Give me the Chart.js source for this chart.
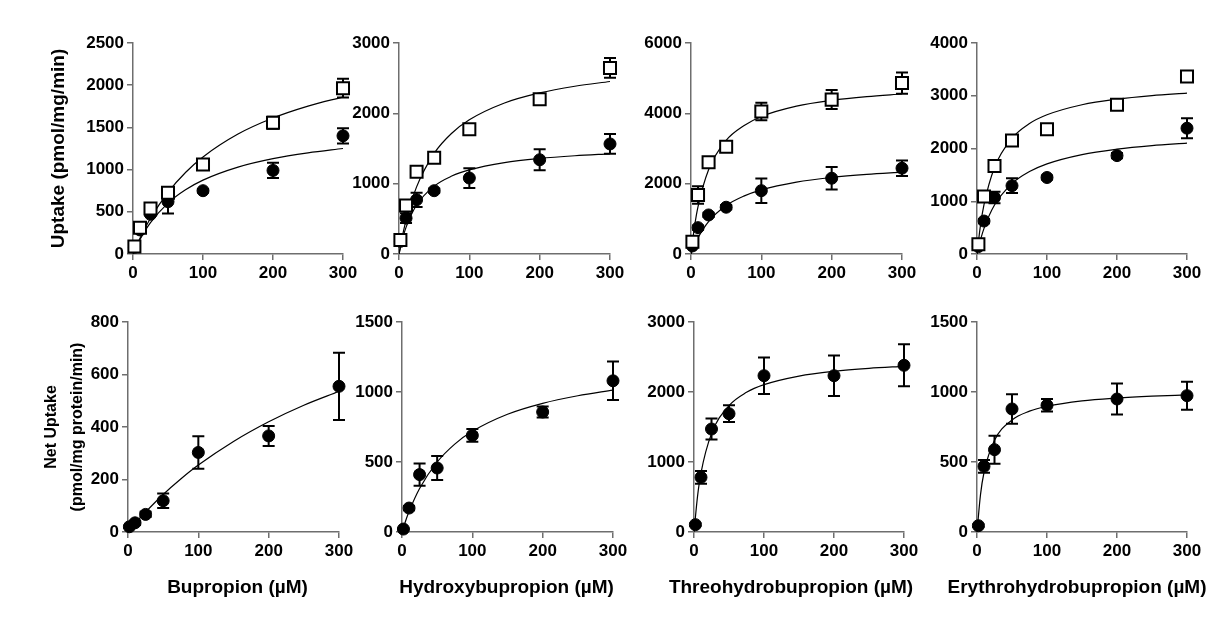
<!DOCTYPE html>
<html>
<head>
<meta charset="utf-8">
<script src="https://cdn.jsdelivr.net/npm/chart.js@4.4.1/dist/chart.umd.min.js"></script>
<style>
  body { margin: 0; background: #fff; }
  #wrap { position: relative; width: 1211px; height: 620px; background: #fff; overflow: hidden; }
  canvas { position: absolute; }
</style>
</head>
<body>
<div id="wrap"></div>
<script>
// concentrations (uM) of the measured points and of the read-off fit curves
const conc = [2, 10, 25, 50, 100, 200, 300];
const curveX = [0, 5, 10, 25, 50, 75, 100, 150, 200, 250, 300];
const xTicks = [0, 100, 200, 300];

// top row: uptake, open squares / filled circles
const bupSq = [90, 310, 540, 725, 1060, 1555, 1965];
const bupSqErr = [20, 30, 30, 50, 30, 70, 110];
const bupCi = [80, 285, 470, 620, 750, 990, 1400];
const bupCiErr = [20, 30, 20, 140, 20, 90, 90];
const bupSqFit = [0, 97, 187, 423, 731, 966, 1150, 1421, 1611, 1752, 1860];
const bupCiFit = [0, 91, 173, 372, 603, 760, 875, 1029, 1129, 1198, 1250];

const hydSq = [200, 690, 1170, 1370, 1775, 2200, 2645];
const hydSqErr = [30, 40, 50, 40, 40, 40, 140];
const hydCi = [180, 510, 770, 900, 1080, 1340, 1565];
const hydCiErr = [30, 70, 100, 30, 140, 150, 140];
const hydSqFit = [0, 260, 477, 954, 1431, 1717, 1908, 2147, 2290, 2385, 2453];
const hydCiFit = [0, 217, 379, 696, 965, 1108, 1196, 1300, 1359, 1397, 1424];

const thrSq = [350, 1680, 2610, 3050, 4050, 4390, 4860];
const thrSqErr = [60, 250, 80, 80, 250, 270, 300];
const thrCi = [230, 750, 1110, 1330, 1800, 2155, 2440];
const thrCiErr = [40, 60, 60, 60, 350, 320, 220];
const thrSqFit = [0, 781, 1350, 2396, 3230, 3645, 3911, 4206, 4371, 4477, 4550];
const thrCiFit = [0, 255, 465, 924, 1377, 1645, 1823, 2044, 2176, 2264, 2326];

const erySq = [185, 1090, 1670, 2150, 2365, 2830, 3365];
const erySqErr = [30, 40, 40, 60, 50, 60, 50];
const eryCi = [140, 625, 1070, 1295, 1450, 1865, 2385];
const eryCiErr = [30, 40, 110, 140, 40, 50, 190];
const erySqFit = [0, 547, 935, 1641, 2194, 2473, 2639, 2830, 2936, 3004, 3051];
const eryCiFit = [0, 269, 486, 929, 1335, 1563, 1709, 1885, 1987, 2054, 2101];

// bottom row: net uptake
const bupNet = [20, 35, 67, 119, 303, 366, 555];
const bupNetErr = [5, 8, 10, 28, 62, 38, 128];
const bupNetFit = [0, 16, 32, 76, 143, 202, 255, 345, 420, 483, 536];

const hydNet = [21, 171, 410, 457, 690, 857, 1080];
const hydNetErr = [5, 15, 80, 85, 45, 40, 137];
const hydNetFit = [0, 77, 146, 311, 500, 628, 719, 841, 919, 973, 1014];

const thrNet = [105, 781, 1471, 1690, 2233, 2233, 2381];
const thrNetErr = [20, 90, 150, 120, 260, 290, 300];
const thrNetFit = [0, 506, 844, 1405, 1805, 1995, 2105, 2228, 2296, 2338, 2367];

const eryNet = [45, 469, 588, 879, 905, 950, 974];
const eryNetErr = [10, 45, 100, 105, 45, 110, 100];
const eryNetFit = [0, 267, 425, 655, 800, 863, 898, 937, 957, 970, 979];

const xTitles = ['Bupropion (\u00b5M)', 'Hydroxybupropion (\u00b5M)', 'Threohydrobupropion (\u00b5M)', 'Erythrohydrobupropion (\u00b5M)'];
const topYTitle = 'Uptake (pmol/mg/min)';
const bottomYTitle = ['Net Uptake', '(pmol/mg protein/min)'];

const FONT = 'Arial, "Liberation Sans", sans-serif';
const AXIS = '#6e6e6e';

// draws the error bars of a dataset just before its points
const errorBars = {
  id: 'errorBars',
  beforeDatasetDraw(chart, args) {
    const ds = chart.data.datasets[args.index];
    if (!ds.errors) return;
    const ctx = chart.ctx, xs = chart.scales.x, ys = chart.scales.y;
    ctx.save();
    ctx.strokeStyle = '#000';
    ctx.lineWidth = 2;
    ds.data.forEach((p, i) => {
      const e = ds.errors[i];
      const px = xs.getPixelForValue(p.x);
      const top = ys.getPixelForValue(p.y + e);
      const bot = ys.getPixelForValue(p.y - e);
      ctx.beginPath();
      ctx.moveTo(px, top); ctx.lineTo(px, bot);
      ctx.moveTo(px - 6, top); ctx.lineTo(px + 6, top);
      ctx.moveTo(px - 6, bot); ctx.lineTo(px + 6, bot);
      ctx.stroke();
    });
    ctx.restore();
  }
};

// x axis title written under the axis without the library squeezing it to the plot width
const xTitle = {
  id: 'xTitle',
  afterDraw(chart, args, opts) {
    if (!opts.text) return;
    const ctx = chart.ctx, a = chart.chartArea;
    ctx.save();
    ctx.font = 'bold 19px ' + FONT;
    ctx.fillStyle = '#000';
    ctx.textAlign = 'center';
    ctx.textBaseline = 'middle';
    ctx.fillText(opts.text, (a.left + a.right) / 2 + opts.dx, a.bottom + opts.dy);
    ctx.restore();
  }
};

const pts = (xs, ys) => xs.map((x, i) => ({x: x, y: ys[i]}));

function squares(vals, errs) {
  return {data: pts(conc, vals), errors: errs, pointStyle: 'rect', pointRadius: 8.5,
    backgroundColor: '#fff', borderColor: '#000', pointBorderWidth: 2, clip: false};
}
function circles(vals, errs) {
  return {data: pts(conc, vals), errors: errs, pointStyle: 'circle', pointRadius: 6,
    backgroundColor: '#000', borderColor: '#000', pointBorderWidth: 1, clip: false};
}
function fit(vals) {
  return {data: pts(curveX, vals), showLine: true, pointRadius: 0, borderColor: '#000',
    borderWidth: 1.2, cubicInterpolationMode: 'monotone', fill: false};
}

// p: canvas box + fixed axis sizes so the plot area lands where the reference has it
function panel(p) {
  const c = document.createElement('canvas');
  c.width = p.w; c.height = p.h;
  c.style.left = p.left + 'px'; c.style.top = p.top + 'px';
  document.getElementById('wrap').appendChild(c);
  new Chart(c, {
    type: 'scatter',
    data: {datasets: p.datasets},
    plugins: [errorBars, xTitle],
    options: {
      responsive: false, animation: false, devicePixelRatio: 1,
      layout: {padding: {left: 0, right: 22, top: 18, bottom: 0}},
      plugins: {
        legend: {display: false}, tooltip: {enabled: false},
        xTitle: {text: p.xTitle, dx: p.xTitleDx || 0, dy: 56}
      },
      scales: {
        x: {
          type: 'linear', min: 0, max: 300,
          afterFit: s => { s.height = p.xH; },
          afterBuildTicks: s => { s.ticks = xTicks.map(v => ({value: v})); },
          grid: {drawOnChartArea: false, tickLength: 6, color: AXIS, lineWidth: 1.5},
          border: {color: AXIS, width: 1.5},
          ticks: {padding: 3, color: '#000', font: {family: FONT, size: 17, weight: 'bold'},
            maxRotation: 0, autoSkip: false, callback: v => String(v)}
        },
        y: {
          type: 'linear', min: 0, max: p.yMax,
          afterFit: s => { s.width = p.yW; },
          afterBuildTicks: s => { s.ticks = p.yTicks.map(v => ({value: v})); },
          grid: {drawOnChartArea: false, tickLength: 6, color: AXIS, lineWidth: 1.5},
          border: {color: AXIS, width: 1.5},
          ticks: {padding: 3, color: '#000', font: {family: FONT, size: 17, weight: 'bold'},
            autoSkip: false, callback: v => String(v)},
          title: p.yTitle ? {display: true, text: p.yTitle, color: '#000', padding: p.yTitlePad,
            font: p.yTitleFont} : {display: false}
        }
      }
    }
  });
}

// top row
panel({left: 20, top: 25, w: 345, h: 259, yW: 113, xH: 30, yMax: 2500, yTicks: [0, 500, 1000, 1500, 2000, 2500],
  yTitle: topYTitle, yTitlePad: {top: 27, bottom: 0}, yTitleFont: {family: FONT, size: 19, weight: 'bold'},
  datasets: [squares(bupSq, bupSqErr), circles(bupCi, bupCiErr), fit(bupSqFit), fit(bupCiFit)]});
panel({left: 344, top: 25, w: 288, h: 259, yW: 55, xH: 30, yMax: 3000, yTicks: [0, 1000, 2000, 3000],
  datasets: [squares(hydSq, hydSqErr), circles(hydCi, hydCiErr), fit(hydSqFit), fit(hydCiFit)]});
panel({left: 636, top: 25, w: 288, h: 259, yW: 55, xH: 30, yMax: 6000, yTicks: [0, 2000, 4000, 6000],
  datasets: [squares(thrSq, thrSqErr), circles(thrCi, thrCiErr), fit(thrSqFit), fit(thrCiFit)]});
panel({left: 922, top: 25, w: 287, h: 259, yW: 55, xH: 30, yMax: 4000, yTicks: [0, 1000, 2000, 3000, 4000],
  datasets: [squares(erySq, erySqErr), circles(eryCi, eryCiErr), fit(erySqFit), fit(eryCiFit)]});

// bottom row
panel({left: 20, top: 304, w: 341, h: 303, yW: 108, xH: 75, yMax: 800, yTicks: [0, 200, 400, 600, 800],
  xTitle: xTitles[0], xTitleDx: 4, yTitle: bottomYTitle, yTitlePad: {top: 19, bottom: 0},
  yTitleFont: {family: FONT, size: 16, weight: 'bold', lineHeight: 1.6},
  datasets: [circles(bupNet, bupNetErr), fit(bupNetFit)]});
panel({left: 347, top: 304, w: 288, h: 303, yW: 55, xH: 75, yMax: 1500, yTicks: [0, 500, 1000, 1500],
  xTitle: xTitles[1], xTitleDx: -1, datasets: [circles(hydNet, hydNetErr), fit(hydNetFit)]});
panel({left: 639, top: 304, w: 287, h: 303, yW: 55, xH: 75, yMax: 3000, yTicks: [0, 1000, 2000, 3000],
  xTitle: xTitles[2], xTitleDx: -8, datasets: [circles(thrNet, thrNetErr), fit(thrNetFit)]});
panel({left: 922, top: 304, w: 287, h: 303, yW: 55, xH: 75, yMax: 1500, yTicks: [0, 500, 1000, 1500],
  xTitle: xTitles[3], xTitleDx: -5, datasets: [circles(eryNet, eryNetErr), fit(eryNetFit)]});
</script>
</body>
</html>
